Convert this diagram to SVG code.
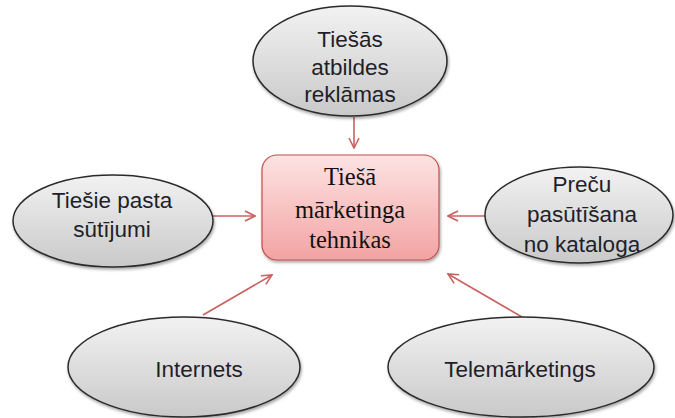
<svg xmlns="http://www.w3.org/2000/svg" width="675" height="418" viewBox="0 0 675 418">
<defs>
<linearGradient id="gGray" x1="0" y1="0" x2="0" y2="1">
<stop offset="0" stop-color="#f2f2f2"/>
<stop offset="1" stop-color="#c9c9c9"/>
</linearGradient>
<linearGradient id="gPink" x1="0" y1="0" x2="0" y2="1">
<stop offset="0" stop-color="#fde3e3"/>
<stop offset="1" stop-color="#f3a3a3"/>
</linearGradient>
<filter id="sh" x="-10%" y="-10%" width="130%" height="130%">
<feDropShadow dx="1" dy="2" stdDeviation="1.5" flood-color="#000" flood-opacity="0.35"/>
</filter>
<marker id="arr" viewBox="0 0 12 12" refX="11" refY="6" markerWidth="12" markerHeight="12" markerUnits="userSpaceOnUse" orient="auto">
<path d="M1,1 L11,6 L1,11" fill="none" stroke="#c9625f" stroke-width="1.6"/>
</marker>
<style>
.ell{fill:url(#gGray);stroke:#2b2b2b;stroke-width:1.5;filter:url(#sh)}
.ctr{fill:url(#gPink);stroke:#c0504d;stroke-width:1.2;filter:url(#sh)}
.t{font-family:"Liberation Sans",Arial,sans-serif;font-size:22.5px;fill:#1f1f2a;text-anchor:middle}
.s{font-family:"Liberation Serif","Times New Roman",serif;font-size:24.5px;fill:#111;text-anchor:middle}
.c{stroke:#c9625f;stroke-width:1.6;fill:none;marker-end:url(#arr)}
</style>
</defs>
<g id="connectors">
<line class="c" x1="354" y1="117" x2="354" y2="148"/>
<line class="c" x1="213" y1="216" x2="255" y2="216"/>
<line class="c" x1="485" y1="216" x2="448" y2="216"/>
<line class="c" x1="203" y1="315" x2="272" y2="275"/>
<line class="c" x1="522" y1="317" x2="448" y2="274"/>
</g>
<g id="center">
<rect class="ctr" x="262" y="155" width="177" height="105" rx="15" ry="15"/>
<text class="s" x="350" y="185">Tiešā</text>
<text class="s" x="350" y="218">mārketinga</text>
<text class="s" x="350" y="248">tehnikas</text>
</g>
<g id="top">
<ellipse class="ell" cx="350" cy="61" rx="97" ry="55"/>
<text class="t" x="350" y="47">Tiešās</text>
<text class="t" x="350" y="75">atbildes</text>
<text class="t" x="350" y="102">reklāmas</text>
</g>
<g id="left">
<ellipse class="ell" cx="113" cy="221" rx="100" ry="46"/>
<text class="t" x="112" y="208">Tiešie pasta</text>
<text class="t" x="112" y="237">sūtījumi</text>
</g>
<g id="right">
<ellipse class="ell" cx="579" cy="215" rx="94" ry="48"/>
<text class="t" x="582" y="192">Preču</text>
<text class="t" x="582" y="222">pasūtīšana</text>
<text class="t" x="582" y="252">no kataloga</text>
</g>
<g id="bottomLeft">
<ellipse class="ell" cx="184" cy="367" rx="116" ry="50"/>
<text class="t" x="199" y="377">Internets</text>
</g>
<g id="bottomRight">
<ellipse class="ell" cx="521" cy="367" rx="133" ry="50"/>
<text class="t" x="520" y="377">Telemārketings</text>
</g>
</svg>
